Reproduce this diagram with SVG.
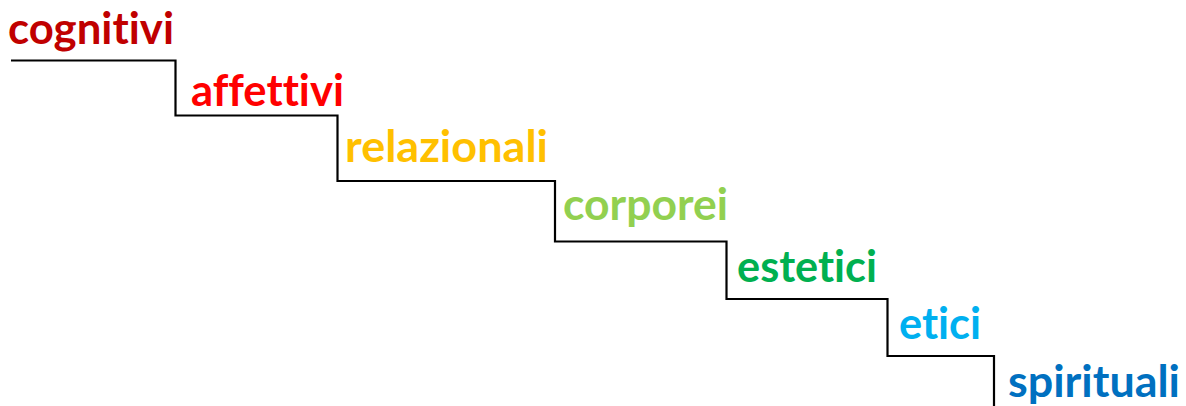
<svg xmlns="http://www.w3.org/2000/svg" width="1186" height="406" viewBox="0 0 1186 406">
<style>
.lbl{font-family:Lato,"Open Sans","Liberation Sans",sans-serif;font-weight:bold;font-size:44px;font-variant-ligatures:none;font-feature-settings:"liga" 0,"clig" 0,"dlig" 0}
.stair{fill:none;stroke:#000;stroke-width:2.2;stroke-linejoin:miter}
</style>
<rect width="1186" height="406" fill="#fff"/>
<g id="connectors">
<polyline class="stair" points="11,60.5 175.5,60.5 175.5,115.5 337.5,115.5 337.5,181 555,181 555,241.5 726.5,241.5 726.5,299 887.5,299 887.5,356 994,356 994,406"/>
</g>
<g id="cognitivi"><text class="lbl" x="8" y="43.5" fill="#C00000" textLength="166" lengthAdjust="spacingAndGlyphs">cognitivi</text></g>
<g id="affettivi"><text class="lbl" x="191" y="106" fill="#FF0000" textLength="153" lengthAdjust="spacingAndGlyphs">affettivi</text></g>
<g id="relazionali"><text class="lbl" x="345" y="162" fill="#FFC000" textLength="203" lengthAdjust="spacingAndGlyphs">relazionali</text></g>
<g id="corporei"><text class="lbl" x="563" y="220" fill="#92D050" textLength="165" lengthAdjust="spacingAndGlyphs">corporei</text></g>
<g id="estetici"><text class="lbl" x="737" y="282" fill="#00B050" textLength="140" lengthAdjust="spacingAndGlyphs">estetici</text></g>
<g id="etici"><text class="lbl" x="899" y="339" fill="#00B0F0" textLength="82" lengthAdjust="spacingAndGlyphs">etici</text></g>
<g id="spirituali"><text class="lbl" x="1008" y="396.5" fill="#0070C0" textLength="172" lengthAdjust="spacingAndGlyphs">spirituali</text></g>
</svg>
